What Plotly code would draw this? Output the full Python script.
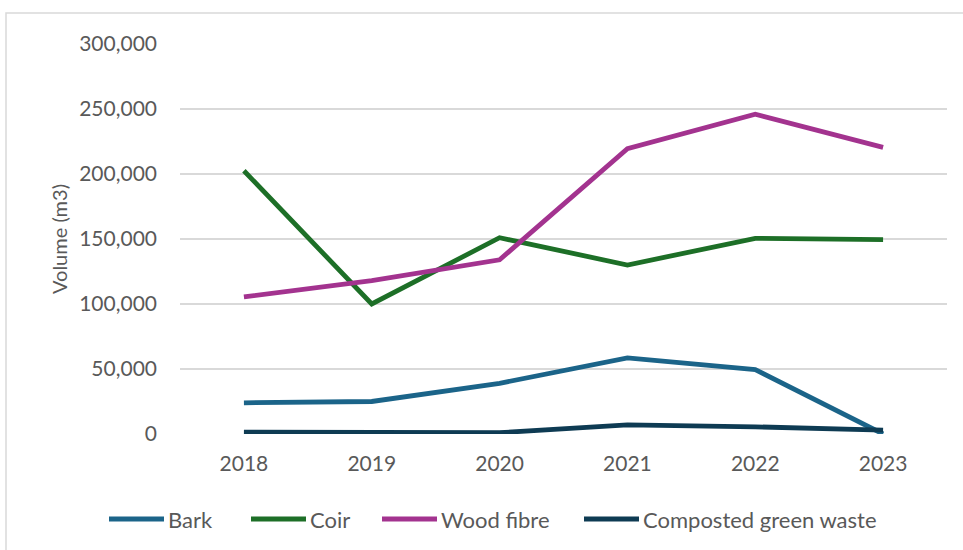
import plotly.graph_objects as go

years = ["2018", "2019", "2020", "2021", "2022", "2023"]
bark = [24000, 25000, 39000, 58500, 49500, 0]
coir = [202500, 100000, 151000, 130000, 150500, 149500]
wood_fibre = [105500, 118000, 134000, 219500, 246000, 220500]
composted = [1500, 1000, 1000, 7000, 5500, 3000]

series_names = ["Bark", "Coir", "Wood fibre", "Composted green waste"]
series_values = [bark, coir, wood_fibre, composted]
series_colors = ["#1b6489", "#1d6f27", "#a3338f", "#0e3b53"]

# legend layout (pixel positions of each legend item's line start)
W, H = 963, 550
L, R, T, B = 180, 16, 44, 116
PW, PH = W - L - R, H - T - B
legend_line_x = [109, 251, 382, 584]
legend_line_len = 55
legend_y_px = 519

def px_x(p):
    return (p - L) / PW

def px_y(p):
    return (H - B - p) / PH

font_family = "Lato, 'Open Sans', sans-serif"
grey = "#595959"

fig = go.Figure()
shapes = [dict(type="rect", xref="paper", yref="paper",
               x0=px_x(6), x1=1.03, y0=-0.32, y1=px_y(13),
               line=dict(color="#d9d9d9", width=1.5), fillcolor="rgba(0,0,0,0)", layer="below")]
annotations = []
for name, vals, color, lx in zip(series_names, series_values, series_colors, legend_line_x):
    fig.add_trace(go.Scatter(
        x=years, y=vals, name=name, mode="lines",
        line=dict(color=color, width=4.8), showlegend=False,
    ))
    shapes.append(dict(type="line", xref="paper", yref="paper",
                       x0=px_x(lx), x1=px_x(lx + legend_line_len),
                       y0=px_y(legend_y_px), y1=px_y(legend_y_px),
                       line=dict(color=color, width=4.8)))
    annotations.append(dict(xref="paper", yref="paper", x=px_x(lx + legend_line_len + 2),
                            y=px_y(legend_y_px), text=name, showarrow=False,
                            xanchor="left", yanchor="middle",
                            font=dict(family=font_family, size=22, color=grey)))

fig.update_layout(
    width=W, height=H,
    margin=dict(l=L, r=R, t=T, b=B),
    paper_bgcolor="white", plot_bgcolor="white",
    font=dict(family=font_family, color=grey, size=21),
    showlegend=False,
    xaxis=dict(type="category", range=[-0.5, 5.5], showgrid=False, showline=False,
               ticks="", ticklabelstandoff=15, tickfont=dict(size=21, color=grey)),
    yaxis=dict(range=[0, 300000], dtick=50000, tickformat=",", showgrid=True,
               gridcolor="#d9d9d9", gridwidth=1.5, zeroline=False, showline=False,
               ticks="", ticklabelstandoff=22, tickfont=dict(size=21, color=grey),
               title=dict(text="Volume (m3)", font=dict(size=20, color=grey), standoff=6)),
    shapes=shapes,
    annotations=annotations,
)

fig.write_html("out.html")
